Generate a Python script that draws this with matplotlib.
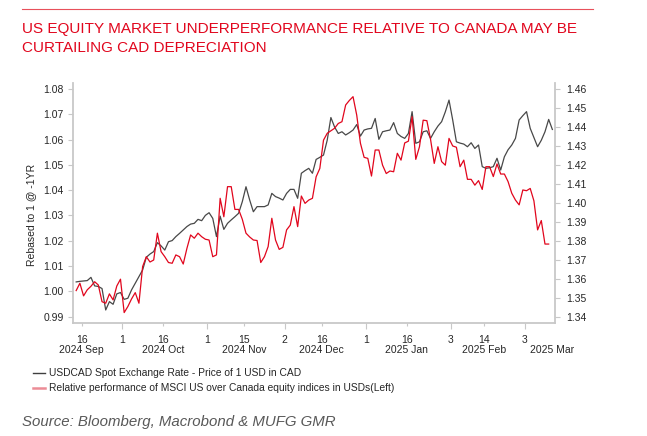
import pandas as pd
import matplotlib
matplotlib.use("Agg")
import matplotlib.pyplot as plt
from matplotlib.lines import Line2D
from matplotlib.transforms import blended_transform_factory

plt.rcParams['font.family'] = ['Liberation Sans', 'DejaVu Sans']

# business days shown on the chart
dates = pd.bdate_range('2024-09-12', '2025-03-12')

# USDCAD spot (right axis)
usdcad = [1.3583, 1.3586, 1.3588, 1.3590, 1.3607, 1.3562, 1.3559, 1.3548, 1.3435, 1.3479,
          1.3465, 1.3520, 1.3527, 1.3491, 1.3497, 1.3541, 1.3576, 1.3611, 1.3646, 1.3713,
          1.3730, 1.3743, 1.3790, 1.3773, 1.3751, 1.3795, 1.3801, 1.3822, 1.3839, 1.3857,
          1.3875, 1.3888, 1.3892, 1.3913, 1.3906, 1.3934, 1.3948, 1.3918, 1.3822, 1.3930,
          1.3860, 1.3892, 1.3910, 1.3927, 1.3945, 1.4006, 1.4085, 1.4015, 1.3953, 1.3980,
          1.3980, 1.3980, 1.3989, 1.4050, 1.4033, 1.4025, 1.4015, 1.4050, 1.4071, 1.4071,
          1.4024, 1.4156, 1.4170, 1.4182, 1.4156, 1.4229, 1.4240, 1.4252, 1.4330, 1.4450,
          1.4400, 1.4366, 1.4375, 1.4358, 1.4370, 1.4384, 1.4413, 1.4352, 1.4384, 1.4390,
          1.4393, 1.4445, 1.4335, 1.4375, 1.4380, 1.4384, 1.4423, 1.4366, 1.4350, 1.4340,
          1.4366, 1.4481, 1.4314, 1.4322, 1.4375, 1.4380, 1.4340, 1.4375, 1.4405, 1.4428,
          1.4480, 1.4542, 1.4437, 1.4322, 1.4315, 1.4310, 1.4296, 1.4317, 1.4287, 1.4305,
          1.4191, 1.4182, 1.4185, 1.4191, 1.4235, 1.4173, 1.4243, 1.4280, 1.4305, 1.4340,
          1.4437, 1.4460, 1.4481, 1.4393, 1.4345, 1.4296, 1.4330, 1.4375, 1.4440, 1.4387]

# MSCI US / MSCI Canada relative performance, rebased (left axis)
rel_perf = [1.0003, 1.0032, 0.9982, 1.0006, 1.0020, 1.0038, 1.0025, 0.9959, 0.9953, 0.9990,
            0.9966, 1.0021, 1.0048, 0.9916, 0.9940, 0.9970, 0.9995, 0.9953, 1.0098, 1.0137,
            1.0116, 1.0124, 1.0230, 1.0157, 1.0137, 1.0114, 1.0111, 1.0144, 1.0137, 1.0108,
            1.0170, 1.0223, 1.0210, 1.0230, 1.0216, 1.0206, 1.0203, 1.0137, 1.0144, 1.0368,
            1.0295, 1.0414, 1.0414, 1.0324, 1.0324, 1.0285, 1.0230, 1.0215, 1.0203, 1.0201,
            1.0114, 1.0137, 1.0177, 1.0289, 1.0203, 1.0166, 1.0174, 1.0243, 1.0262, 1.0335,
            1.0256, 1.0377, 1.0348, 1.0361, 1.0368, 1.0453, 1.0486, 1.0598, 1.0625, 1.0635,
            1.0645, 1.0664, 1.0671, 1.0737, 1.0755, 1.0770, 1.0697, 1.0586, 1.0530, 1.0526,
            1.0456, 1.0559, 1.0559, 1.0499, 1.0466, 1.0476, 1.0473, 1.0546, 1.0519, 1.0587,
            1.0594, 1.0691, 1.0522, 1.0572, 1.0677, 1.0675, 1.0601, 1.0506, 1.0572, 1.0513,
            1.0499, 1.0605, 1.0575, 1.0570, 1.0493, 1.0519, 1.0443, 1.0443, 1.0420, 1.0438,
            1.0403, 1.0493, 1.0493, 1.0454, 1.0504, 1.0464, 1.0464, 1.0434, 1.0388, 1.0361,
            1.0342, 1.0401, 1.0398, 1.0407, 1.0358, 1.0243, 1.0280, 1.0187, 1.0187]

major_days = ['2024-10-01', '2024-11-01', '2024-12-02', '2025-01-01', '2025-02-03', '2025-03-03']
minor_days = ['2024-09-16', '2024-10-16', '2024-11-15', '2024-12-16', '2025-01-16', '2025-02-14']
month_labels = ['2024 Sep', '2024 Oct', '2024 Nov', '2024 Dec', '2025 Jan', '2025 Feb', '2025 Mar']

left_ticks = [0.99, 1.00, 1.01, 1.02, 1.03, 1.04, 1.05, 1.06, 1.07, 1.08]
right_ticks = [1.34, 1.35, 1.36, 1.37, 1.38, 1.39, 1.40, 1.41, 1.42, 1.43, 1.44, 1.45, 1.46]

RED = '#e1061d'
GREY = '#c8c8c8'
TXT = '#262626'

def pos(d):
    return dates.get_loc(pd.Timestamp(d))

fig = plt.figure(figsize=(6.47, 4.36), dpi=100)
ax = fig.add_axes([0.1133, 0.2599, 0.745, 0.5497])
ax2 = ax.twinx()
ax.set_zorder(ax2.get_zorder() + 1)
ax.patch.set_visible(False)

xb = [i + 0.5 for i in range(len(usdcad))]
xr = [i + 0.5 for i in range(len(rel_perf))]
ax2.plot(xb, usdcad, color='#484848', lw=0.9)
ax.plot(xr, rel_perf, color=RED, lw=0.9)

ax.set_xlim(-0.28, 130.3)
ax.set_ylim(0.9876, 1.0824)
ax2.set_ylim(1.3368, 1.4632)

ax.set_yticks(left_ticks, [f'{v:.2f}' for v in left_ticks])
ax2.set_yticks(right_ticks, [f'{v:.2f}' for v in right_ticks])

ax.set_xticks([pos(d) for d in major_days], [str(pd.Timestamp(d).day) for d in major_days])
ax.set_xticks([pos(d) for d in minor_days], [str(pd.Timestamp(d).day) for d in minor_days], minor=True)

for a in (ax, ax2):
    a.spines['top'].set_visible(False)
    for s in a.spines.values():
        s.set_color(GREY)
        s.set_linewidth(1.3)
ax.spines['right'].set_visible(False)
ax2.spines['left'].set_visible(False)
ax2.spines['bottom'].set_visible(False)

ax.tick_params(axis='y', labelsize=7.5, colors=GREY, labelcolor=TXT, length=3.5, width=0.8)
ax2.tick_params(axis='y', labelsize=7.5, colors=GREY, labelcolor=TXT, length=3.5, width=0.8, pad=4.5)
ax.tick_params(axis='x', which='major', labelsize=7.5, colors=GREY, labelcolor=TXT, length=4, width=0.8, pad=5)
ax.tick_params(axis='x', which='minor', labelsize=7.5, colors=GREY, labelcolor=TXT, length=2.5, width=0.8, pad=6.5)

ax.set_ylabel('Rebased to 1 @ -1YR', fontsize=7.5, color=TXT)
ax.yaxis.set_label_coords(-0.077, 0.45)

# month / year labels under the day ticks
trans = blended_transform_factory(ax.transData, fig.transFigure)
month_x = [pos(d) for d in minor_days] + [pos('2025-03-03') + 7.4]
for x, lab in zip(month_x, month_labels):
    ax.text(x, 1 - 350 / 436, lab, transform=trans, ha='center', va='center',
            fontsize=7.5, color=TXT)

# header rule and title
fig.add_artist(Line2D([22 / 647, 593 / 647], [1 - 9.5 / 436] * 2, color='#e8505b', lw=0.8))
fig.text(22 / 647, 1 - 33.3 / 436, 'US EQUITY MARKET UNDERPERFORMANCE RELATIVE TO CANADA MAY BE',
         color=RED, fontsize=10.95, va='baseline')
fig.text(22 / 647, 1 - 51.7 / 436, 'CURTAILING CAD DEPRECIATION',
         color=RED, fontsize=10.95, va='baseline')

# legend
leg_items = [('USDCAD Spot Exchange Rate - Price of 1 USD in CAD', '#3f3f3f', 373, 1.0),
             ('Relative performance of MSCI US over Canada equity indices in USDs(Left)', '#ec8c96', 388, 1.8)]
for lab, col, yy, w in leg_items:
    fig.add_artist(Line2D([33 / 647, 45 / 647], [1 - yy / 436] * 2, color=col, lw=w))
    fig.text(49 / 647, 1 - yy / 436, lab, fontsize=7.4, color=TXT, va='center')

fig.text(22.5 / 647, 1 - 421.5 / 436, 'Source: Bloomberg, Macrobond & MUFG GMR',
         fontsize=10.8, style='italic', color='#595959', va='center')

fig.savefig('out.png', dpi=100)
